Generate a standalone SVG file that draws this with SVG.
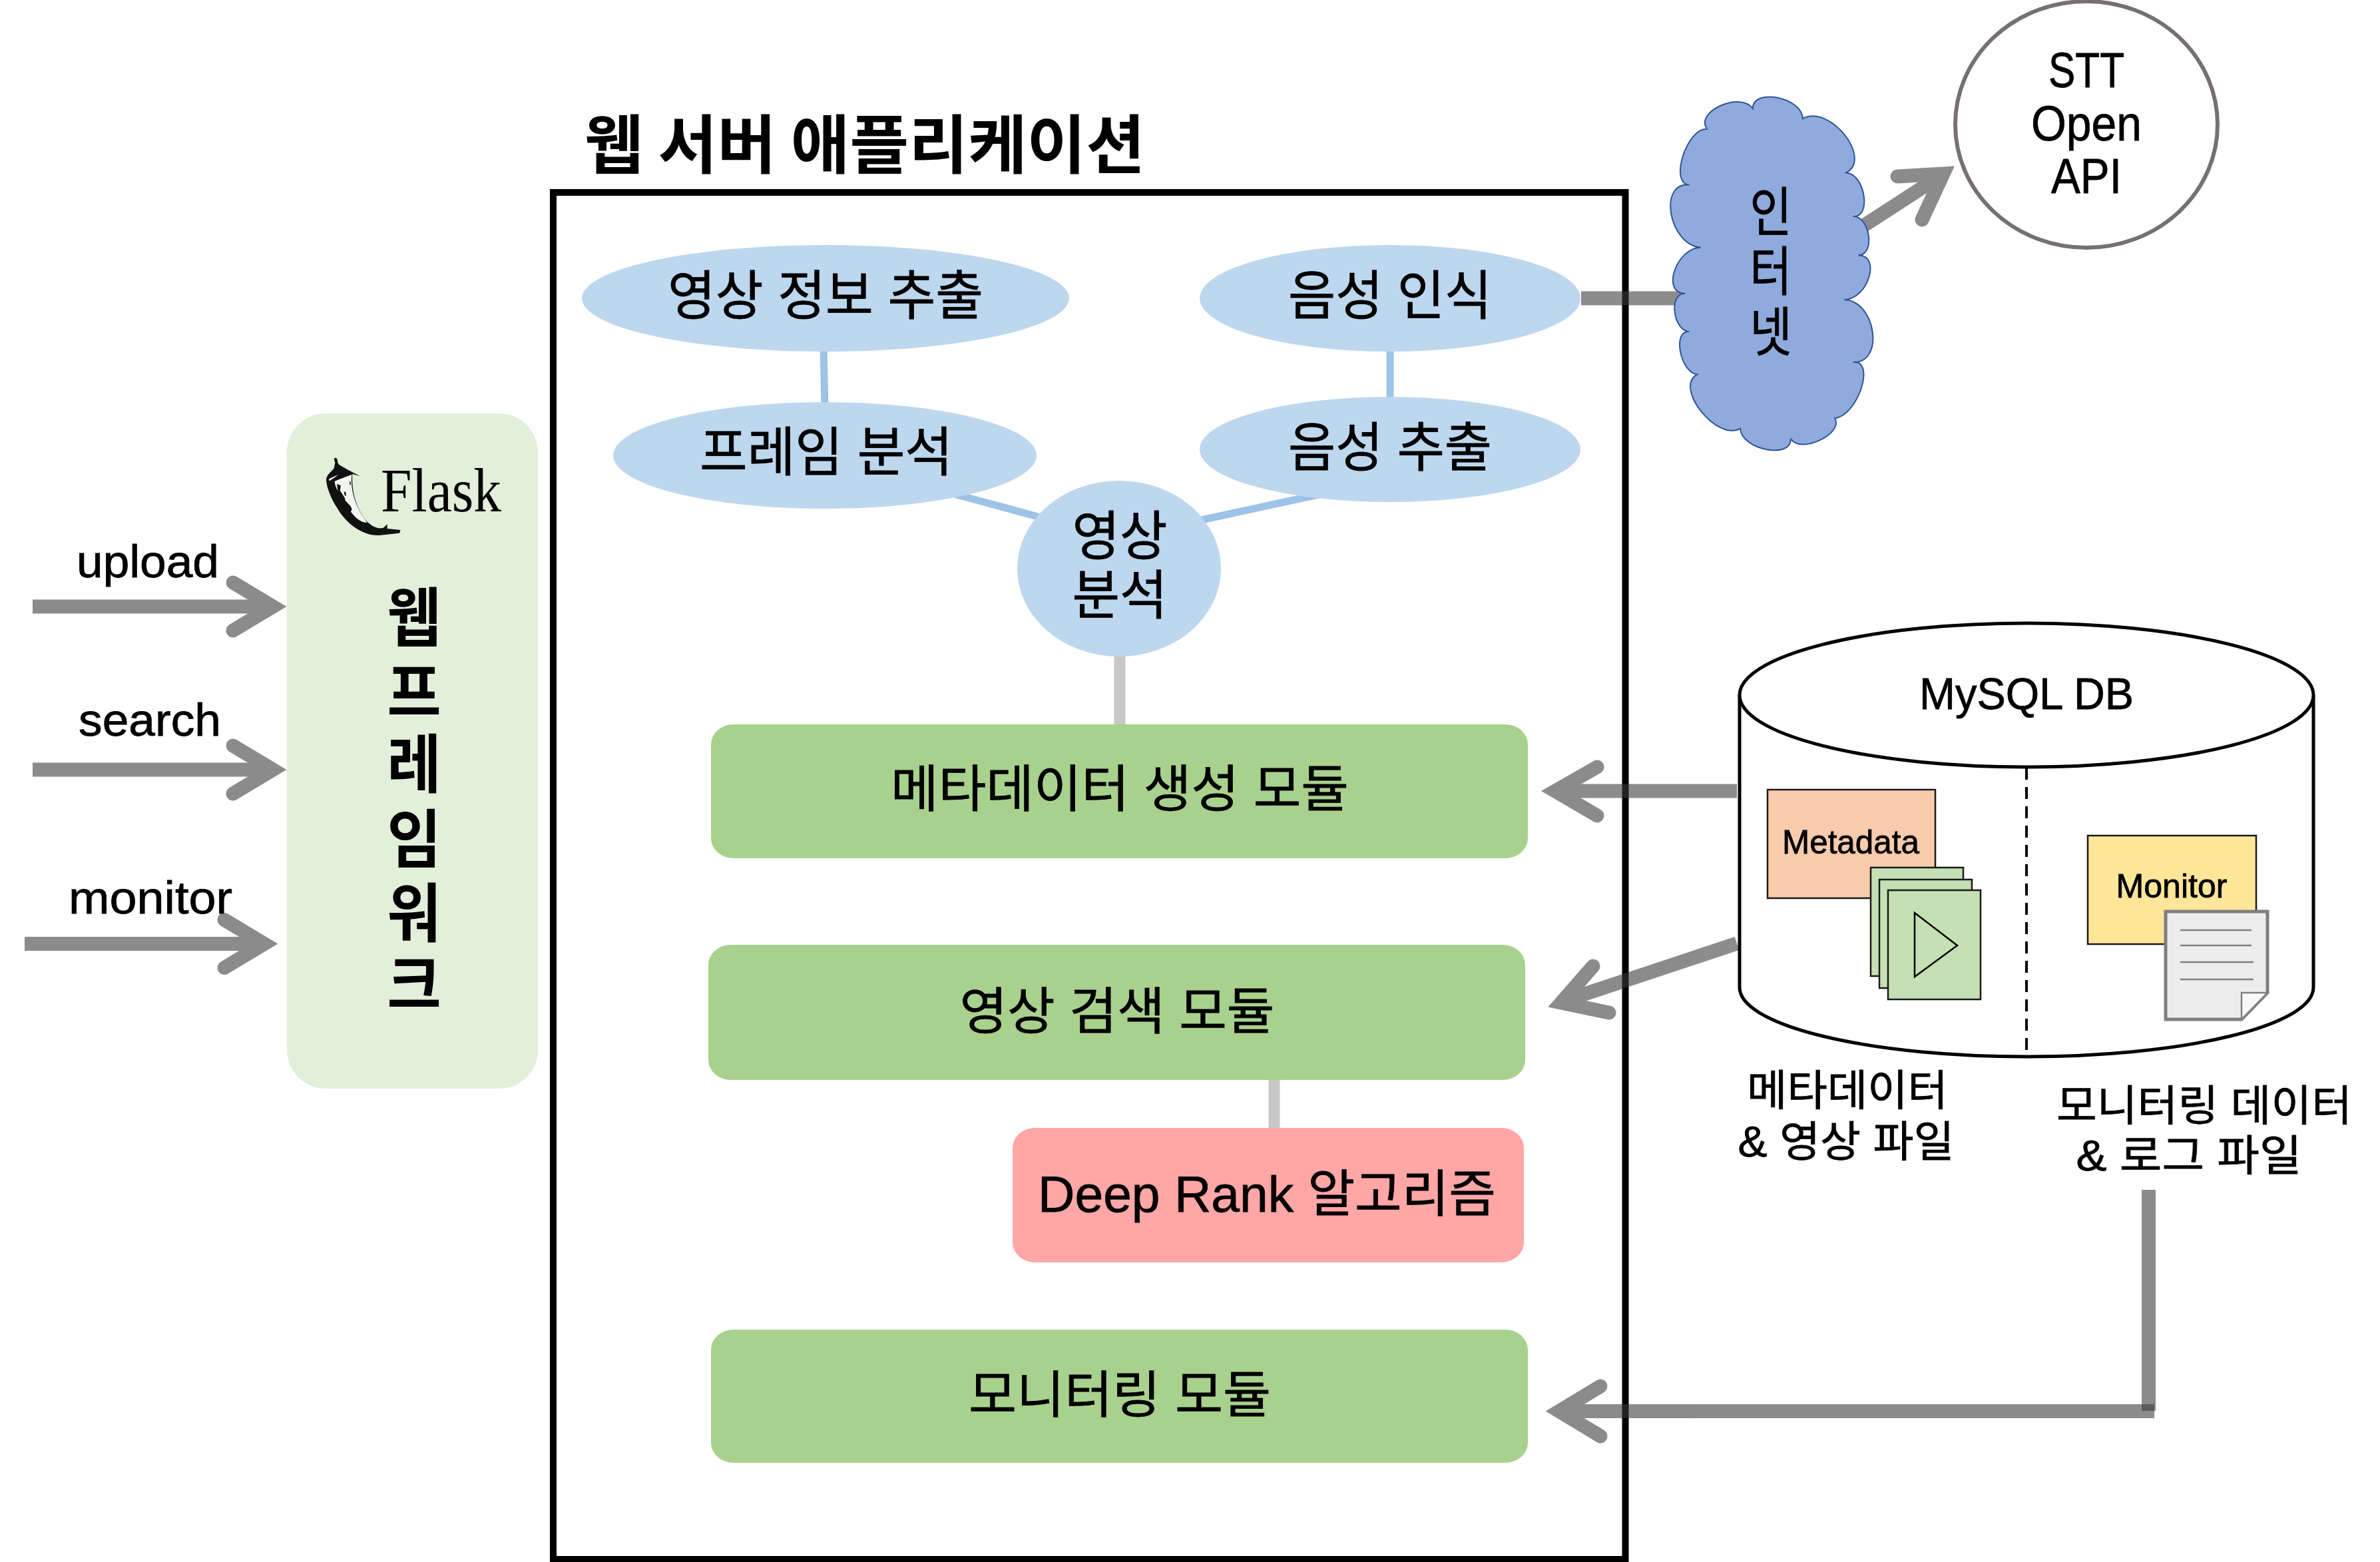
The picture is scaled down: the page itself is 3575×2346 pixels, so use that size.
<svg xmlns="http://www.w3.org/2000/svg" width="3575" height="2346" viewBox="0 0 3575 2346">
<style>
text{font-family:"Liberation Sans","Noto Sans CJK KR",sans-serif;fill:#000;text-anchor:middle;stroke:#000;stroke-width:.8}
.b{font-family:"Noto Sans CJK KR",sans-serif;font-weight:700;stroke-width:0}
.lat{font-size:69px;text-anchor:start}
.e{fill:#bdd7ee}
.g{fill:#a9d18e}
.m{font-size:76px}
.s{font-size:80px}
.l{font-size:64px}
.arr{opacity:.59}
.arr line,.arr polyline,.arr path{fill:none;stroke:#3b3b3b;stroke-width:21}
.arr polyline{stroke-linecap:round;stroke-miterlimit:10}
.lb line{stroke:#9dc3e6;stroke-width:11}
.lg line{stroke:#c8c8c8;stroke-width:17}
.pg{fill:#c5e0b4;stroke:#1a1a1a;stroke-width:2.5}
.dl line{stroke:#7f7f7f;stroke-width:2.5}
</style>
<rect id="web-app-box" x="831" y="289" width="1610.5" height="2053" fill="#fff" stroke="#000" stroke-width="10"/>
<text id="web-app-title" class="b" x="1299" y="252" font-size="96" textLength="842" lengthAdjust="spacingAndGlyphs">웹 서버 애플리케이션</text>
<g id="request-labels">
<text class="lat" x="115" y="867" textLength="214" lengthAdjust="spacingAndGlyphs">upload</text>
<text class="lat" x="118" y="1105" textLength="214" lengthAdjust="spacingAndGlyphs">search</text>
<text class="lat" x="103" y="1372" textLength="246" lengthAdjust="spacingAndGlyphs">monitor</text>
</g>
<g id="connectors">
<g class="lb">
<line x1="1237" y1="520" x2="1239" y2="610"/>
<line x1="2088" y1="520" x2="2088" y2="600"/>
<line x1="1430" y1="741" x2="1570" y2="779"/>
<line x1="1800" y1="782" x2="1980" y2="743"/>
</g>
<g class="lg">
<line x1="1682" y1="980" x2="1682" y2="1092"/>
<line x1="1914" y1="1618" x2="1914" y2="1698"/>
</g>
<g class="arr"><line x1="49" y1="911" x2="405" y2="911"/><polyline points="350,875 410,911 350,947"/></g>
<g class="arr"><line x1="49" y1="1156" x2="405" y2="1156"/><polyline points="350,1120 410,1156 350,1192"/></g>
<g class="arr"><line x1="37" y1="1417.500" x2="392" y2="1417.500"/><polyline points="337,1381.500 397,1417.500 337,1453.500"/></g>
<g class="arr"><line x1="2375" y1="448" x2="2560" y2="448"/></g>
<g class="arr"><line x1="2770" y1="358" x2="2915" y2="264"/><polyline points="2850,265 2919,261 2887,330"/></g>
<g class="arr"><line x1="2609" y1="1188" x2="2345" y2="1188"/><polyline points="2399,1152 2336,1188 2399,1225"/></g>
<g class="arr"><line x1="2609" y1="1417" x2="2350" y2="1503"/><polyline points="2393,1451 2345,1506 2417,1521"/></g>
<g class="arr"><line x1="3227.500" y1="1787" x2="3227.500" y2="2119"/></g>
<g class="arr"><line x1="3236" y1="2119.500" x2="2348" y2="2119.500"/><polyline points="2404,2082 2342,2119.500 2404,2157"/></g>
</g>
<g id="flask-panel">
<rect x="431" y="621" width="377" height="1014" rx="58" ry="58" fill="#e2efda"/>
<g transform="translate(470 670) scale(.3333)">
<path fill="#111" d="M95,58Q104,46 110,60L112,74 118,84 160,108 212,135 178,126C175,190 185,260 235,330 265,365 295,375 318,368L335,352 335,372 395,378 390,392 320,400C230,415 150,350 110,280 80,235 60,180 60,150 65,125 80,120 95,100L100,75Z"/>
<path fill="#f2f6ee" d="M98,158L175,128C170,190 182,262 245,345 215,345 190,320 170,296 186,280 160,262 150,250 125,215 100,195 98,158Z"/>
<path fill="#f2f6ee" d="M72,148L115,128 100,140 75,157Z"/>
<path fill="#111" d="M108,170L126,178 122,200 132,215 146,238 140,248 122,222 112,200ZM140,205l8,3 2,16-7-2ZM165,160l5,1 1,14-5,-2ZM150,270L190,320 178,322 150,290Z"/>
</g>
<text x="572" y="768" font-size="94" textLength="181" lengthAdjust="spacingAndGlyphs" style="font-family:'Liberation Serif',serif;text-anchor:start;stroke-width:0">Flask</text>
<g transform="translate(622 0) scale(.92 1)"><text class="b" font-size="96"><tspan x="0" y="962">웹</tspan><tspan x="0" y="1074">프</tspan><tspan x="0" y="1182">레</tspan><tspan x="0" y="1295">임</tspan><tspan x="0" y="1406">워</tspan><tspan x="0" y="1513">크</tspan></text></g>
</g>
<g id="video-info"><ellipse class="e" cx="1240" cy="448" rx="366" ry="80"/><text class="s" x="1240" y="472" textLength="474" lengthAdjust="spacingAndGlyphs">영상 정보 추출</text></g>
<g id="speech-recog"><ellipse class="e" cx="2088" cy="448" rx="286" ry="80"/><text class="s" x="2088" y="472" textLength="306" lengthAdjust="spacingAndGlyphs">음성 인식</text></g>
<g id="frame-analysis"><ellipse class="e" cx="1239" cy="684" rx="318" ry="80"/><text class="s" x="1241" y="707" textLength="380" lengthAdjust="spacingAndGlyphs">프레임 분석</text></g>
<g id="speech-extract"><ellipse class="e" cx="2088" cy="675" rx="286" ry="79"/><text class="s" x="2088" y="700" textLength="306" lengthAdjust="spacingAndGlyphs">음성 추출</text></g>
<g id="video-analysis"><ellipse class="e" cx="1681" cy="854" rx="153" ry="132"/><text class="s" x="1682" y="833" textLength="143" lengthAdjust="spacingAndGlyphs">영상</text><text class="s" x="1682" y="922" textLength="143" lengthAdjust="spacingAndGlyphs">분석</text></g>
<g id="metadata-module"><rect class="g" x="1068" y="1088" width="1227" height="201" rx="34" ry="30"/><text class="m" x="1682" y="1212" textLength="688" lengthAdjust="spacingAndGlyphs">메타데이터 생성 모듈</text></g>
<g id="search-module"><rect class="g" x="1064" y="1419" width="1227" height="203" rx="34" ry="30"/><text class="m" x="1678" y="1546" textLength="473" lengthAdjust="spacingAndGlyphs">영상 검색 모듈</text></g>
<g id="deeprank"><rect x="1521" y="1694" width="768" height="202" rx="34" ry="30" fill="#ffa6a6"/><text class="m" x="1903" y="1820" textLength="688" lengthAdjust="spacingAndGlyphs">Deep Rank 알고리즘</text></g>
<g id="monitor-module"><rect class="g" x="1068" y="1997" width="1227" height="200" rx="34" ry="30"/><text class="m" x="1682" y="2122" textLength="454" lengthAdjust="spacingAndGlyphs">모니터링 모듈</text></g>
<g id="internet">
<g transform="translate(2350 0) scale(.78125 .4591)">
<path vector-effect="non-scaling-stroke" fill="#8faadc" stroke="#2f5597" stroke-width="2" d="M362,355C362,286 458,319 458,388C509,340 593,517 542,565C578,570 591,713 555,708C588,708 598,835 565,835C610,835 583,980 538,980C599,984 616,1189 555,1185C599,1177 564,1360 520,1368C537,1420 452,1487 435,1435C437,1504 340,1471 338,1402C293,1445 210,1268 255,1225C222,1218 207,1078 240,1085C208,1082 200,957 232,960C185,960 215,810 262,810C201,801 179,596 240,605C201,601 235,418 274,422C250,365 338,298 362,355Z"/>
</g>
<g transform="translate(2660 0) scale(.86 1)"><text font-size="80"><tspan x="0" y="347">인</tspan><tspan x="0" y="436">터</tspan><tspan x="0" y="527">넷</tspan></text></g>
</g>
<g id="stt-api">
<ellipse cx="3134" cy="187" rx="197" ry="185" fill="#fff" stroke="#767171" stroke-width="6"/>
<text font-size="74" x="3134" y="131" textLength="114" lengthAdjust="spacingAndGlyphs">STT</text><text font-size="74" x="3134" y="211" textLength="166" lengthAdjust="spacingAndGlyphs">Open</text><text font-size="74" x="3134" y="290" textLength="106" lengthAdjust="spacingAndGlyphs">API</text>
</g>
<g id="mysql-db">
<path fill="#fff" stroke="#000" stroke-width="5" d="M2613,1044V1483A431,104 0 0 0 3475,1483V1044"/>
<ellipse cx="3044" cy="1044" rx="431" ry="108" fill="#fff" stroke="#000" stroke-width="5"/>
<line x1="3044" y1="1153" x2="3044" y2="1587" stroke="#000" stroke-width="4" stroke-dasharray="18 11"/>
<text x="3044" y="1065" font-size="66" textLength="322" lengthAdjust="spacingAndGlyphs">MySQL DB</text>
<g id="metadata-store">
<rect x="2655" y="1186" width="252" height="163" fill="#f8cbad" stroke="#1a1a1a" stroke-width="2.5"/>
<text x="2780" y="1282" font-size="50" textLength="206" lengthAdjust="spacingAndGlyphs">Metadata</text>
<rect class="pg" x="2810" y="1303" width="139" height="163"/>
<rect class="pg" x="2823" y="1321" width="139" height="163"/>
<rect class="pg" x="2836" y="1337" width="139" height="164"/>
<polygon points="2876,1371 2940,1420 2876,1467" fill="#c5e0b4" stroke="#000" stroke-width="2.500"/>
</g>
<g id="monitor-store">
<rect x="3136" y="1255" width="253" height="163" fill="#ffe699" stroke="#1a1a1a" stroke-width="2.5"/>
<text x="3262" y="1348" font-size="50" textLength="167" lengthAdjust="spacingAndGlyphs">Monitor</text>
<path fill="#ededed" stroke="#7f7f7f" stroke-width="5" d="M3253,1369H3406V1491L3367,1531H3253Z"/>
<path fill="#f8f8f8" stroke="#7f7f7f" stroke-width="2.500" d="M3367,1531V1491H3406Z"/>
<g class="dl"><line x1="3275" y1="1397" x2="3382" y2="1397"/><line x1="3275" y1="1420" x2="3382" y2="1420"/><line x1="3275" y1="1445" x2="3385" y2="1445"/><line x1="3275" y1="1471" x2="3385" y2="1471"/></g>
</g>
</g>
<g id="db-labels">
<text class="l" x="2775" y="1660" font-size="66" textLength="302" lengthAdjust="spacingAndGlyphs">메타데이터</text>
<text class="l" x="2773" y="1737" textLength="325" lengthAdjust="spacingAndGlyphs">&amp; 영상 파일</text>
<text class="l" x="3311" y="1683" textLength="444" lengthAdjust="spacingAndGlyphs">모니터링 데이터</text>
<text class="l" x="3288" y="1758" textLength="339" lengthAdjust="spacingAndGlyphs">&amp; 로그 파일</text>
</g>
</svg>
